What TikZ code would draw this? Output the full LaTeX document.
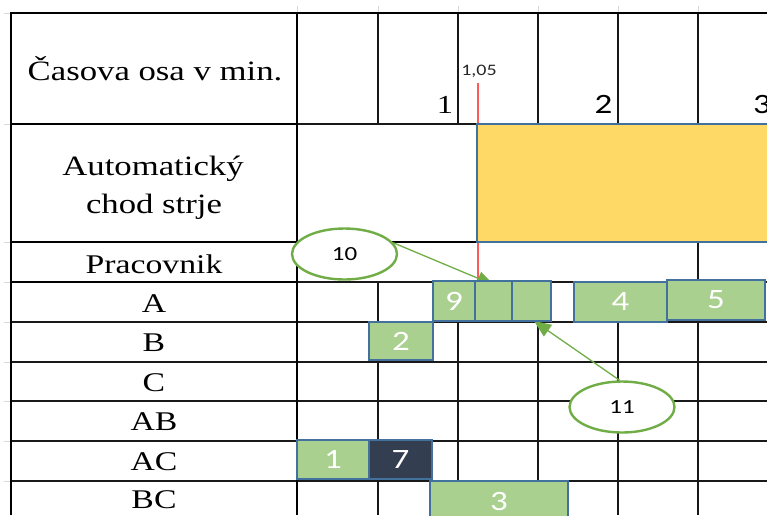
\documentclass[tikz,border=0pt]{standalone}
\usepackage{fontspec}
\setmainfont{Liberation Serif}
\newfontfamily\calib{Carlito}
\usetikzlibrary{arrows.meta,shapes.geometric}
\definecolor{gfill}{HTML}{A9D08E}
\definecolor{bblue}{HTML}{41719C}
\definecolor{yfill}{HTML}{FFD966}
\definecolor{navyfill}{HTML}{333F50}
\definecolor{egreen}{HTML}{70AD47}
\definecolor{redl}{HTML}{FF5A5A}
\definecolor{tickgray}{HTML}{D9D9D9}
\newcommand{\wt}[1]{\scalebox{1.25}[1]{#1}}
\begin{document}
\begin{tikzpicture}[x=1pt,y=-1pt,
  thickline/.style={line width=2.4pt,black},
  midline/.style={line width=1.8pt,black},
  gridline/.style={line width=1.3pt,black!90},
  tickline/.style={line width=1pt,tickgray},
  lbl/.style={font=\fontsize{27}{32}\selectfont,anchor=base,inner sep=0pt},
  task/.style={draw=bblue,line width=2.2pt,fill=gfill,inner sep=0pt,text=white,font=\calib\fontsize{28}{30}\selectfont},
  bubble/.style={ellipse,draw=egreen,line width=2.4pt,fill=white,inner sep=0pt,minimum width=105pt,minimum height=51pt,font=\calib\fontsize{20}{22}\selectfont},
  arr/.style={draw=egreen,line width=1.3pt,-{Triangle[length=17pt,width=14pt]},color=egreen}
]
\useasboundingbox (0,0) rectangle (767,515);
% faint spreadsheet ticks
\foreach \x in {297,378,458,538,618,698} \draw[tickline] (\x,6) -- (\x,13);
\foreach \y in {13,124,242,282,322,362,401,441,481} \draw[tickline] (4,\y) -- (11,\y);
% grid in time area
\foreach \x in {378,458,538,618,698} \draw[gridline] (\x,13) -- (\x,124);
\draw[gridline] (698,242) -- (698,282);
\foreach \x in {378,458,538,618,698} \draw[gridline] (\x,282) -- (\x,515);
\draw[gridline] (297,124) -- (477,124);
\draw[midline] (297,242) -- (767,242);
\draw[gridline] (297,282) -- (767,282);
\foreach \y in {322,362,401,441,481} \draw[gridline] (297,\y) -- (767,\y);
% left column
\foreach \y in {322,362,401,441,481} \draw[gridline] (11,\y) -- (297,\y);
\draw[thickline] (11,124) -- (297,124);
\draw[thickline] (11,242) -- (297,242);
\draw[thickline] (11,282) -- (297,282);
\draw[thickline] (11,13) -- (767,13);
\draw[thickline] (11,12) -- (11,515);
\draw[thickline] (297,12) -- (297,515);
% labels in left column
\node[lbl] (hdr) at (155,80) {\scalebox{1.24}[1]{\fontsize{28}{32}\selectfont Časova osa v min.}};
\node[lbl] (aut1) at (153,175) {\scalebox{1.24}[1]{\fontsize{28}{32}\selectfont Automatický}};
\node[lbl] (aut2) at (154,213) {\scalebox{1.24}[1]{\fontsize{28}{32}\selectfont chod strje}};
\node[lbl] (prac) at (154,273) {\wt{Pracovnik}};
\node[lbl] (rA) at (154,312) {\wt{A}};
\node[lbl] (rB) at (154,351) {\wt{B}};
\node[lbl] (rC) at (154,391) {\wt{C}};
\node[lbl] (rAB) at (154,430) {\wt{AB}};
\node[lbl] (rAC) at (154,470) {\wt{AC}};
\node[lbl] (rBC) at (154,508) {\wt{BC}};
% time labels
\node[lbl,font=\fontsize{26}{28}\selectfont] (t1) at (445,113) {\wt{1}};
\node[lbl,font=\calib\fontsize{28}{30}\selectfont] (t2) at (603.5,113) {\wt{2}};
\node[lbl,font=\calib\fontsize{28}{30}\selectfont] (t3) at (762,113) {\wt{3}};
\node[lbl,font=\calib\fontsize{16}{18}\selectfont,text=black!85] (t105) at (479,75) {\wt{1,05}};
% red marker
\coordinate (rtop) at (478,83);
\coordinate (rbot) at (478,282);
\draw[redl,line width=1.3pt] (rtop) -- (rbot);
% automatic run bar
\node[draw=bblue,line width=2.2pt,fill=yfill,minimum width=293pt,minimum height=118pt,inner sep=0pt] (ybar) at (623.5,183) {};
% bubbles
\node[bubble] (e10) at (344.5,254) {\wt{10}};
\node[bubble] (e11) at (622,407) {\wt{11}};
\coordinate (tip10) at (494,285);
\coordinate (tip11) at (534,321);
\draw[arr] (e10.13) -- (tip10);
\draw[arr] (e11.95) -- (tip11);
% task boxes
\node[task,minimum width=42pt,minimum height=40pt] (b9) at (454,301) {\wt{9}};
\node[task,minimum width=37pt,minimum height=40pt] (bA2) at (493.5,301) {};
\node[task,minimum width=39pt,minimum height=40pt] (bA3) at (531.5,301) {};
\node[task,minimum width=93pt,minimum height=40pt] (b4) at (620.5,302) {\wt{4}};
\node[task,minimum width=98pt,minimum height=40pt] (b5) at (716,300) {\wt{5}};
\node[task,minimum width=64pt,minimum height=38pt] (b2) at (401,341) {\wt{2}};
\node[task,minimum width=72pt,minimum height=39pt] (b1) at (333,459.5) {\wt{1}};
\node[task,minimum width=63pt,minimum height=39pt,fill=navyfill] (b7) at (400.5,459.5) {\wt{7}};
\node[task,minimum width=138pt,minimum height=40pt] (b3) at (499,501) {\wt{3}};
\end{tikzpicture}
\end{document}
